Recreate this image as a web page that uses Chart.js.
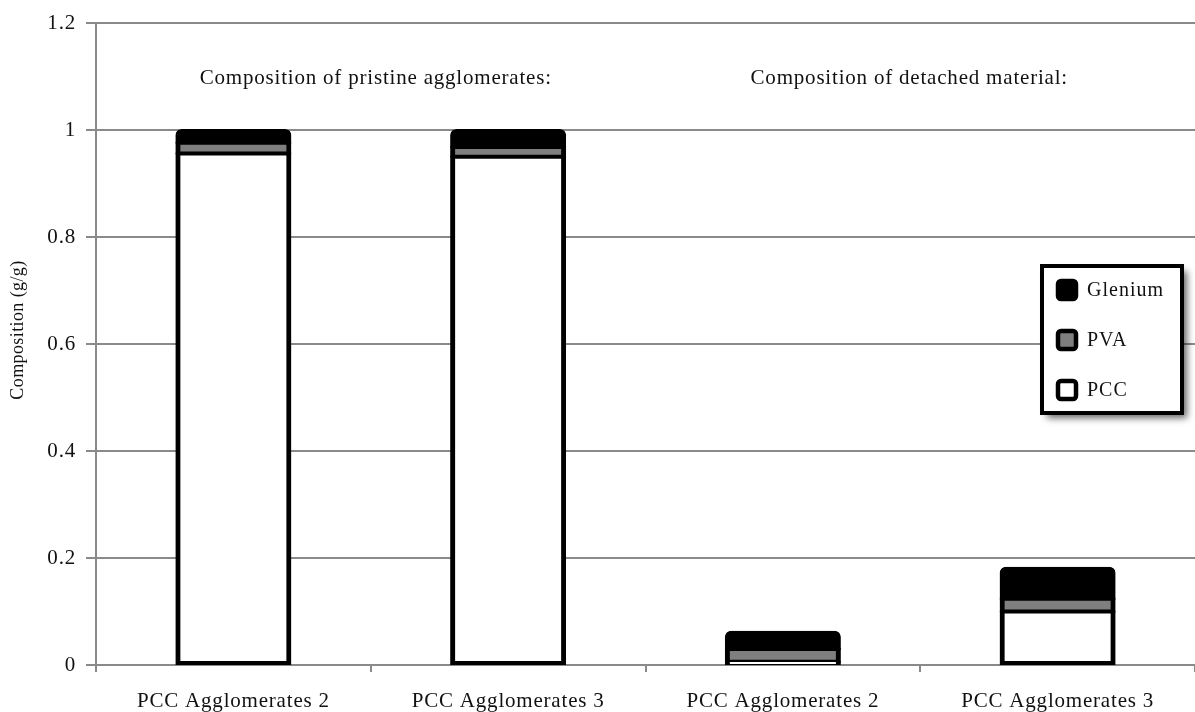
<!DOCTYPE html>
<html>
<head>
<meta charset="utf-8">
<script src="https://cdn.jsdelivr.net/npm/chart.js@4.4.1/dist/chart.umd.min.js"></script>
<style>
  html, body { margin: 0; padding: 0; background: #fff; }
  #wrap { width: 1195px; height: 712px; }
</style>
</head>
<body>
<div id="wrap"><canvas id="chart"></canvas></div>
<script>
const categories = ['PCC Agglomerates 2', 'PCC Agglomerates 3', 'PCC Agglomerates 2', 'PCC Agglomerates 3'];
const groupTitles = ['Composition of pristine agglomerates:', 'Composition of detached material:'];
const yTitle = 'Composition (g/g)';
const pcc = [0.956, 0.950, 0.006, 0.100];
const pva = [0.020, 0.018, 0.024, 0.024];
const glenium = [0.024, 0.032, 0.032, 0.058];
const yTicks = [0, 0.2, 0.4, 0.6, 0.8, 1, 1.2];

const SERIF = '"Liberation Serif", "Times New Roman", serif';
const GRID = '#8a8a8a';
const FS = 21;
const LS = '0.8px';

const spacingPlugin = {
  id: 'spacing',
  beforeDraw(chart) { chart.ctx.letterSpacing = LS; },
};

// group headings and the rotated y-axis title
const titlesPlugin = {
  id: 'titles',
  afterDatasetsDraw(chart) {
    const { ctx, scales: { x } } = chart;
    ctx.save();
    ctx.letterSpacing = LS;
    ctx.font = `${FS}px ${SERIF}`;
    ctx.fillStyle = '#111';
    ctx.textAlign = 'center';
    ctx.textBaseline = 'middle';
    ctx.fillText(groupTitles[0], x.getPixelForValue(0.5) + 5, 78);
    ctx.fillText(groupTitles[1], x.getPixelForValue(2.5) - 11, 78);

    ctx.font = `18px ${SERIF}`;
    ctx.letterSpacing = '0.4px';
    ctx.translate(18, 330);
    ctx.rotate(-Math.PI / 2);
    ctx.fillText(yTitle, 0, 0);
    ctx.restore();
  },
};

const legendPlugin = {
  id: 'boxLegend',
  afterDraw(chart) {
    const { ctx } = chart;
    const items = chart.data.datasets.slice().reverse();
    const bx = 1042, by = 266, bw = 140, bh = 147;
    ctx.save();
    ctx.shadowColor = 'rgba(0,0,0,0.6)';
    ctx.shadowBlur = 7;
    ctx.shadowOffsetX = 5;
    ctx.shadowOffsetY = 5;
    ctx.fillStyle = '#fff';
    ctx.fillRect(bx, by, bw, bh);
    ctx.shadowColor = 'transparent';
    ctx.lineWidth = 4;
    ctx.strokeStyle = '#000';
    ctx.strokeRect(bx, by, bw, bh);
    ctx.font = `20px ${SERIF}`;
    ctx.letterSpacing = '1px';
    ctx.textBaseline = 'middle';
    items.forEach((ds, i) => {
      const cy = 290 + i * 50;
      ctx.fillStyle = ds.backgroundColor;
      ctx.beginPath();
      ctx.roundRect(1058, cy - 9, 18, 18, 3);
      ctx.fill();
      ctx.lineWidth = 4.5;
      ctx.strokeStyle = '#000';
      ctx.stroke();
      ctx.fillStyle = '#111';
      ctx.fillText(ds.label, 1087, cy + 1);
    });
    ctx.restore();
  },
};

const seg = (label, data, color, border, radius) => ({
  label,
  data,
  backgroundColor: color,
  borderColor: '#000',
  borderWidth: border,
  borderSkipped: false,
  borderRadius: radius,
  inflateAmount: 1,
  barPercentage: 0.83,
  categoryPercentage: 0.5,
});

new Chart(document.getElementById('chart'), {
  type: 'bar',
  data: {
    labels: categories,
    datasets: [
      seg('PCC', pcc, '#ffffff', { top: 3, left: 5, right: 5, bottom: 4 }, 0),
      seg('PVA', pva, '#7f7f7f', { top: 3, left: 5, right: 5, bottom: 3 }, 0),
      seg('Glenium', glenium, '#000000', 4, { topLeft: 6, topRight: 6 }),
    ],
  },
  plugins: [spacingPlugin, titlesPlugin, legendPlugin],
  options: {
    responsive: true,
    maintainAspectRatio: false,
    animation: false,
    layout: { padding: { top: 23, right: 0, left: 0, bottom: 0 } },
    plugins: {
      legend: { display: false },
      tooltip: { enabled: false },
    },
    scales: {
      x: {
        stacked: true,
        afterFit: s => { s.height = 47; },
        grid: {
          offset: true,
          drawOnChartArea: false,
          color: GRID,
          lineWidth: 2,
          tickLength: 7,
        },
        border: { color: GRID, width: 2 },
        ticks: { color: '#111', padding: 17, font: { family: SERIF, size: FS } },
      },
      y: {
        stacked: true,
        min: 0,
        max: 1.2,
        afterFit: s => { s.width = 96; },
        afterBuildTicks: s => { s.ticks = yTicks.map(v => ({ value: v })); },
        grid: { color: GRID, lineWidth: 2, tickLength: 10 },
        border: { color: GRID, width: 2 },
        ticks: {
          color: '#111',
          padding: 10,
          font: { family: SERIF, size: FS },
          callback: v => String(v),
        },
      },
    },
  },
});
</script>
</body>
</html>
